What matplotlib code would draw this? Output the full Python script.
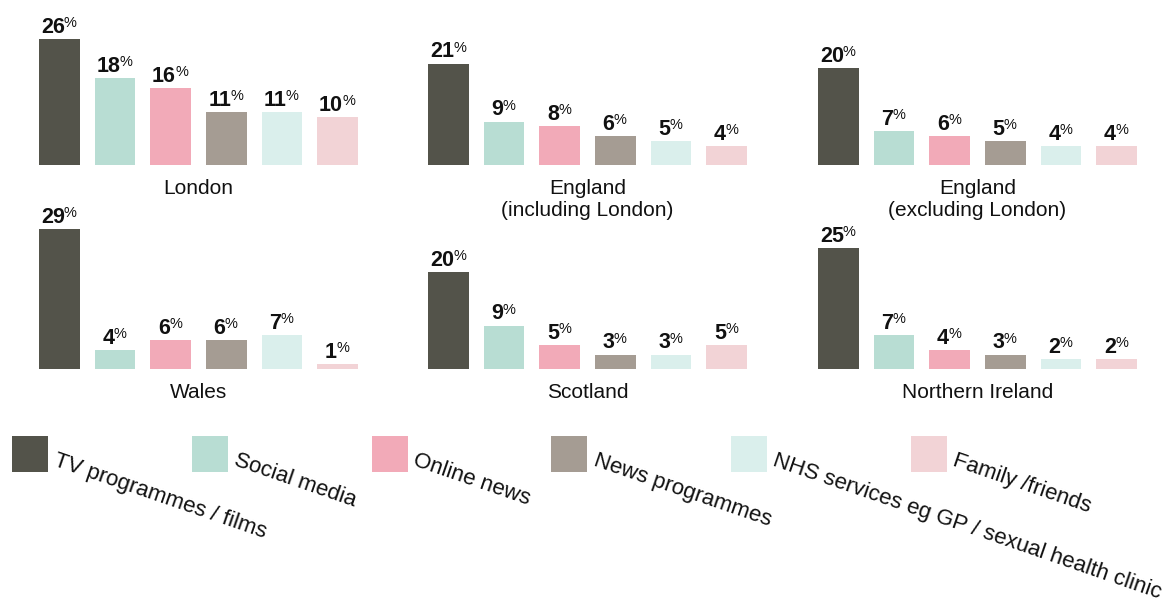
import matplotlib
matplotlib.use('Agg')
import matplotlib.pyplot as plt
from matplotlib.patches import Rectangle

plt.rcParams['font.family'] = ['Liberation Sans', 'DejaVu Sans']

# information sources, one bar each per region
sources = ['TV programmes / films', 'Social media', 'Online news',
           'News programmes', 'NHS services eg GP / sexual health clinic',
           'Family /friends']
colors = ['#53534a', '#b8ddd3', '#f2aab8', '#a59c93', '#daefec', '#f2d3d6']

regions = ['London', 'England\n(including London)', 'England\n(excluding London)',
           'Wales', 'Scotland', 'Northern Ireland']
london = [26, 18, 16, 11, 11, 10]
england_incl = [21, 9, 8, 6, 5, 4]
england_excl = [20, 7, 6, 5, 4, 4]
wales = [29, 4, 6, 6, 7, 1]
scotland = [20, 9, 5, 3, 3, 5]
northern_ireland = [25, 7, 4, 3, 2, 2]
region_values = [london, england_incl, england_excl,
                 wales, scotland, northern_ireland]

W, H = 1169, 606
fig = plt.figure(figsize=(W / 100, H / 100), dpi=100)

# panel geometry in pixels
panel_left = [31.7, 420.7, 810.7]
panel_width = 333.6
baselines = [165, 369]
px_per_pct = 4.83
ymax = 30

for k, (title, vals) in enumerate(zip(regions, region_values)):
    row, col = divmod(k, 3)
    ax = fig.add_axes([panel_left[col] / W, (H - baselines[row]) / H,
                       panel_width / W, ymax * px_per_pct / H])
    xs = list(range(len(vals)))
    ax.bar(xs, vals, width=0.73, color=colors)
    ax.set_xlim(-0.5, len(vals) - 0.5)
    ax.set_ylim(0, ymax)
    ax.axis('off')

    for x, v in zip(xs, vals):
        num = ax.annotate(str(v), xy=(x, v), xytext=(-4.8, 0.8),
                          textcoords='offset points', ha='center', va='bottom',
                          fontsize=15.5, fontweight='bold', color='#111111',
                          annotation_clip=False)
        ax.annotate('%', xy=(1, 1), xycoords=num, xytext=(-0.6, 0.6),
                    textcoords='offset points', ha='left', va='top',
                    fontsize=10.5, color='#111111', annotation_clip=False)

    ax.annotate(title, xy=(0.5, 0), xycoords='axes fraction',
                xytext=(0, -10.3), textcoords='offset points',
                ha='center', va='top', fontsize=15, linespacing=1.2,
                color='#111111', annotation_clip=False)

# legend drawn on a pixel-space overlay
lax = fig.add_axes([0, 0, 1, 1])
lax.set_xlim(0, W)
lax.set_ylim(H, 0)
lax.axis('off')
for i, (label, c) in enumerate(zip(sources, colors)):
    x0 = 12 + i * 179.8
    lax.add_patch(Rectangle((x0, 436), 36, 36, color=c, lw=0))
    lax.text(x0 + 46, 450, label, rotation=-19, rotation_mode='anchor',
             ha='left', va='top', fontsize=16, color='#111111')

fig.savefig('out.png', dpi=100)
